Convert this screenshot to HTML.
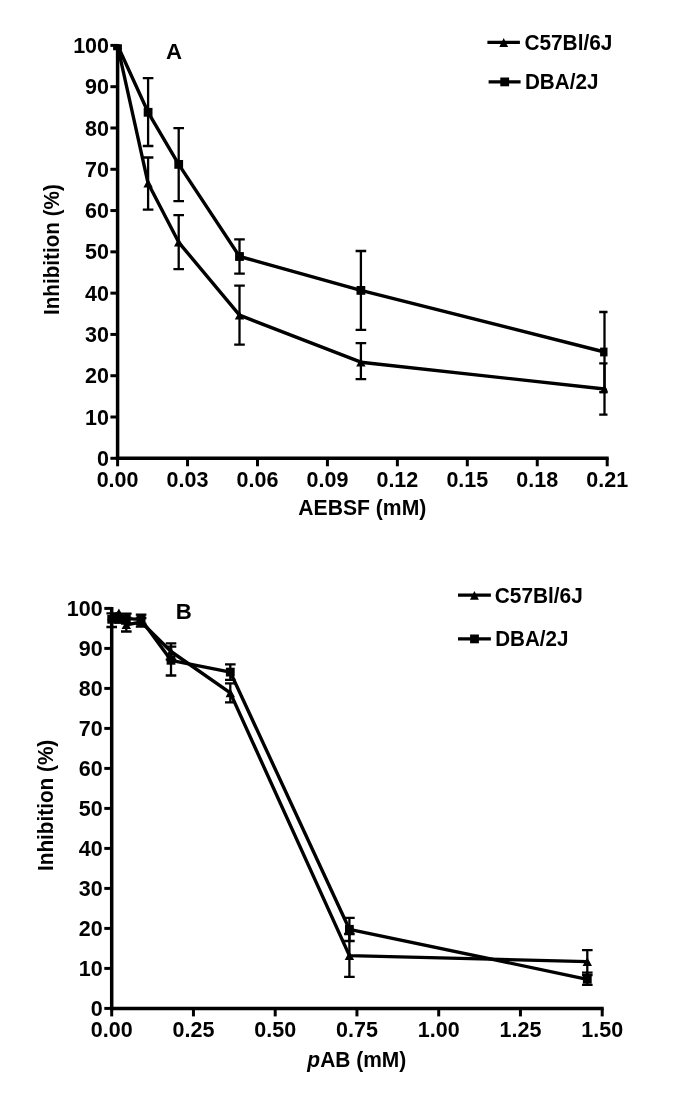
<!DOCTYPE html>
<html lang="en"><head><meta charset="utf-8"><title>Inhibition curves</title>
<style>
html,body{margin:0;padding:0;background:#fff}
svg{display:block}
text{font-family:"Liberation Sans", Arial, sans-serif;font-weight:bold;fill:#000}
</style></head>
<body>
<svg width="685" height="1111" viewBox="0 0 685 1111">
<rect width="685" height="1111" fill="#fff"/>
<path d="M117.6 43.90V460.05" stroke="#000" stroke-width="3.5" fill="none"/>
<path d="M115.85 458.3H608.70" stroke="#000" stroke-width="3.5" fill="none"/>
<path d="M110.4 458.30H117.6" stroke="#000" stroke-width="3.0"/>
<text x="109.0" y="465.85" text-anchor="end" font-size="21.5">0</text>
<path d="M110.4 417.01H117.6" stroke="#000" stroke-width="3.0"/>
<text x="109.0" y="424.56" text-anchor="end" font-size="21.5">10</text>
<path d="M110.4 375.72H117.6" stroke="#000" stroke-width="3.0"/>
<text x="109.0" y="383.27" text-anchor="end" font-size="21.5">20</text>
<path d="M110.4 334.43H117.6" stroke="#000" stroke-width="3.0"/>
<text x="109.0" y="341.98" text-anchor="end" font-size="21.5">30</text>
<path d="M110.4 293.14H117.6" stroke="#000" stroke-width="3.0"/>
<text x="109.0" y="300.69" text-anchor="end" font-size="21.5">40</text>
<path d="M110.4 251.85H117.6" stroke="#000" stroke-width="3.0"/>
<text x="109.0" y="259.4" text-anchor="end" font-size="21.5">50</text>
<path d="M110.4 210.56H117.6" stroke="#000" stroke-width="3.0"/>
<text x="109.0" y="218.11" text-anchor="end" font-size="21.5">60</text>
<path d="M110.4 169.27H117.6" stroke="#000" stroke-width="3.0"/>
<text x="109.0" y="176.82" text-anchor="end" font-size="21.5">70</text>
<path d="M110.4 127.98H117.6" stroke="#000" stroke-width="3.0"/>
<text x="109.0" y="135.53" text-anchor="end" font-size="21.5">80</text>
<path d="M110.4 86.69H117.6" stroke="#000" stroke-width="3.0"/>
<text x="109.0" y="94.24" text-anchor="end" font-size="21.5">90</text>
<path d="M110.4 45.40H117.6" stroke="#000" stroke-width="3.0"/>
<text x="109.0" y="52.95" text-anchor="end" font-size="21.5">100</text>
<path d="M117.60 458.3V466.3" stroke="#000" stroke-width="3.0"/>
<text x="117.6" y="486.7" text-anchor="middle" font-size="21.5">0.00</text>
<path d="M187.54 458.3V466.3" stroke="#000" stroke-width="3.0"/>
<text x="187.54" y="486.7" text-anchor="middle" font-size="21.5">0.03</text>
<path d="M257.49 458.3V466.3" stroke="#000" stroke-width="3.0"/>
<text x="257.49" y="486.7" text-anchor="middle" font-size="21.5">0.06</text>
<path d="M327.43 458.3V466.3" stroke="#000" stroke-width="3.0"/>
<text x="327.43" y="486.7" text-anchor="middle" font-size="21.5">0.09</text>
<path d="M397.37 458.3V466.3" stroke="#000" stroke-width="3.0"/>
<text x="397.37" y="486.7" text-anchor="middle" font-size="21.5">0.12</text>
<path d="M467.31 458.3V466.3" stroke="#000" stroke-width="3.0"/>
<text x="467.31" y="486.7" text-anchor="middle" font-size="21.5">0.15</text>
<path d="M537.26 458.3V466.3" stroke="#000" stroke-width="3.0"/>
<text x="537.26" y="486.7" text-anchor="middle" font-size="21.5">0.18</text>
<path d="M607.20 458.3V466.3" stroke="#000" stroke-width="3.0"/>
<text x="607.2" y="486.7" text-anchor="middle" font-size="21.5">0.21</text>
<text x="362.3" y="515.3" text-anchor="middle" font-size="21.5" textLength="128" lengthAdjust="spacingAndGlyphs">AEBSF (mM)</text>
<text transform="translate(59.1,249.6) rotate(-90)" text-anchor="middle" font-size="21.5" textLength="131" lengthAdjust="spacingAndGlyphs">Inhibition (%)</text>
<text x="174.1" y="59.0" text-anchor="middle" font-size="22.2">A</text>
<clipPath id="ca"><rect x="100" y="44.2" width="507.5" height="440"/></clipPath><g clip-path="url(#ca)">
<path d="M148.10 78.20V146.00M142.80 78.20h10.6M142.80 146.00h10.6" stroke="#000" stroke-width="2.3" fill="none"/>
<path d="M178.70 128.20V201.20M173.40 128.20h10.6M173.40 201.20h10.6" stroke="#000" stroke-width="2.3" fill="none"/>
<path d="M239.50 239.30V273.70M234.20 239.30h10.6M234.20 273.70h10.6" stroke="#000" stroke-width="2.3" fill="none"/>
<path d="M360.90 251.00V329.80M355.60 251.00h10.6M355.60 329.80h10.6" stroke="#000" stroke-width="2.3" fill="none"/>
<path d="M604.50 312.00V392.20M599.20 312.00h10.6M599.20 392.20h10.6" stroke="#000" stroke-width="2.3" fill="none"/>
<path d="M148.10 157.50V209.60M142.80 157.50h10.6M142.80 209.60h10.6" stroke="#000" stroke-width="2.3" fill="none"/>
<path d="M178.70 215.20V269.20M173.40 215.20h10.6M173.40 269.20h10.6" stroke="#000" stroke-width="2.3" fill="none"/>
<path d="M239.50 285.70V344.70M234.20 285.70h10.6M234.20 344.70h10.6" stroke="#000" stroke-width="2.3" fill="none"/>
<path d="M360.90 343.20V379.10M355.60 343.20h10.6M355.60 379.10h10.6" stroke="#000" stroke-width="2.3" fill="none"/>
<path d="M604.50 363.30V414.70M599.20 363.30h10.6M599.20 414.70h10.6" stroke="#000" stroke-width="2.3" fill="none"/>
<polyline points="117.50,45.20 148.10,112.30 178.70,164.40 239.50,256.50 360.90,290.40 604.50,352.00" fill="none" stroke="#000" stroke-width="3.4" stroke-linejoin="round"/>
<polyline points="117.60,46.00 148.10,183.30 178.70,242.30 239.50,315.20 360.90,362.20 604.50,389.00" fill="none" stroke="#000" stroke-width="3.4" stroke-linejoin="round"/>
<polygon points="117.60,41.70 122.30,50.30 112.90,50.30" fill="#000"/>
<polygon points="148.10,179.00 152.80,187.60 143.40,187.60" fill="#000"/>
<polygon points="178.70,238.00 183.40,246.60 174.00,246.60" fill="#000"/>
<polygon points="239.50,310.90 244.20,319.50 234.80,319.50" fill="#000"/>
<polygon points="360.90,357.90 365.60,366.50 356.20,366.50" fill="#000"/>
<polygon points="604.50,384.70 609.20,393.30 599.80,393.30" fill="#000"/>
<rect x="113.10" y="40.80" width="8.8" height="8.8" fill="#000"/>
<rect x="143.70" y="107.90" width="8.8" height="8.8" fill="#000"/>
<rect x="174.30" y="160.00" width="8.8" height="8.8" fill="#000"/>
<rect x="235.10" y="252.10" width="8.8" height="8.8" fill="#000"/>
<rect x="356.50" y="286.00" width="8.8" height="8.8" fill="#000"/>
<rect x="600.10" y="347.60" width="8.8" height="8.8" fill="#000"/>
</g>
<path d="M487.4 42.4H519.9M488.6 81.8H520.6" stroke="#000" stroke-width="3.2"/>
<polygon points="503.70,38.10 508.10,46.90 499.30,46.90" fill="#000"/>
<rect x="500.30" y="77.50" width="8.8" height="8.8" fill="#000"/>
<text x="524.4" y="49.9" text-anchor="start" font-size="21.5" textLength="88" lengthAdjust="spacingAndGlyphs">C57Bl/6J</text>
<text x="524.9" y="88.9" text-anchor="start" font-size="21.5" textLength="73.5" lengthAdjust="spacingAndGlyphs">DBA/2J</text>
<path d="M111.7 606.90V1010.15" stroke="#000" stroke-width="3.5" fill="none"/>
<path d="M109.95 1008.4H603.70" stroke="#000" stroke-width="3.5" fill="none"/>
<path d="M104.3 1008.40H111.7" stroke="#000" stroke-width="3.0"/>
<text x="102.6" y="1016.0" text-anchor="end" font-size="21.5">0</text>
<path d="M104.3 968.40H111.7" stroke="#000" stroke-width="3.0"/>
<text x="102.6" y="976.0" text-anchor="end" font-size="21.5">10</text>
<path d="M104.3 928.40H111.7" stroke="#000" stroke-width="3.0"/>
<text x="102.6" y="936.0" text-anchor="end" font-size="21.5">20</text>
<path d="M104.3 888.40H111.7" stroke="#000" stroke-width="3.0"/>
<text x="102.6" y="896.0" text-anchor="end" font-size="21.5">30</text>
<path d="M104.3 848.40H111.7" stroke="#000" stroke-width="3.0"/>
<text x="102.6" y="856.0" text-anchor="end" font-size="21.5">40</text>
<path d="M104.3 808.40H111.7" stroke="#000" stroke-width="3.0"/>
<text x="102.6" y="816.0" text-anchor="end" font-size="21.5">50</text>
<path d="M104.3 768.40H111.7" stroke="#000" stroke-width="3.0"/>
<text x="102.6" y="776.0" text-anchor="end" font-size="21.5">60</text>
<path d="M104.3 728.40H111.7" stroke="#000" stroke-width="3.0"/>
<text x="102.6" y="736.0" text-anchor="end" font-size="21.5">70</text>
<path d="M104.3 688.40H111.7" stroke="#000" stroke-width="3.0"/>
<text x="102.6" y="696.0" text-anchor="end" font-size="21.5">80</text>
<path d="M104.3 648.40H111.7" stroke="#000" stroke-width="3.0"/>
<text x="102.6" y="656.0" text-anchor="end" font-size="21.5">90</text>
<path d="M104.3 608.40H111.7" stroke="#000" stroke-width="3.0"/>
<text x="102.6" y="616.0" text-anchor="end" font-size="21.5">100</text>
<path d="M111.70 1008.4V1016.4" stroke="#000" stroke-width="3.0"/>
<text x="111.7" y="1036.8" text-anchor="middle" font-size="21.5">0.00</text>
<path d="M193.45 1008.4V1016.4" stroke="#000" stroke-width="3.0"/>
<text x="193.45" y="1036.8" text-anchor="middle" font-size="21.5">0.25</text>
<path d="M275.20 1008.4V1016.4" stroke="#000" stroke-width="3.0"/>
<text x="275.2" y="1036.8" text-anchor="middle" font-size="21.5">0.50</text>
<path d="M356.95 1008.4V1016.4" stroke="#000" stroke-width="3.0"/>
<text x="356.95" y="1036.8" text-anchor="middle" font-size="21.5">0.75</text>
<path d="M438.70 1008.4V1016.4" stroke="#000" stroke-width="3.0"/>
<text x="438.7" y="1036.8" text-anchor="middle" font-size="21.5">1.00</text>
<path d="M520.45 1008.4V1016.4" stroke="#000" stroke-width="3.0"/>
<text x="520.45" y="1036.8" text-anchor="middle" font-size="21.5">1.25</text>
<path d="M602.20 1008.4V1016.4" stroke="#000" stroke-width="3.0"/>
<text x="602.2" y="1036.8" text-anchor="middle" font-size="21.5">1.50</text>
<text x="356.8" y="1067" text-anchor="middle" font-size="21.5" textLength="98.9" lengthAdjust="spacingAndGlyphs"><tspan font-style="italic">p</tspan>AB (mM)</text>
<text transform="translate(53.2,805.4) rotate(-90)" text-anchor="middle" font-size="21.5" textLength="131.3" lengthAdjust="spacingAndGlyphs">Inhibition (%)</text>
<text x="183.7" y="618.5" text-anchor="middle" font-size="22.2">B</text>
<path d="M111.70 613.40V627.00M106.40 613.40h10.6M106.40 627.00h10.6" stroke="#000" stroke-width="2.3" fill="none"/>
<path d="M126.30 613.60V623.50M121.00 613.60h10.6M121.00 623.50h10.6" stroke="#000" stroke-width="2.3" fill="none"/>
<path d="M141.10 614.60V624.00M135.80 614.60h10.6M135.80 624.00h10.6" stroke="#000" stroke-width="2.3" fill="none"/>
<path d="M171.00 646.60V675.50M165.70 646.60h10.6M165.70 675.50h10.6" stroke="#000" stroke-width="2.3" fill="none"/>
<path d="M230.30 664.40V679.80M225.00 664.40h10.6M225.00 679.80h10.6" stroke="#000" stroke-width="2.3" fill="none"/>
<path d="M349.40 917.80V941.00M344.10 917.80h10.6M344.10 941.00h10.6" stroke="#000" stroke-width="2.3" fill="none"/>
<path d="M587.30 972.60V984.90M582.00 972.60h10.6M582.00 984.90h10.6" stroke="#000" stroke-width="2.3" fill="none"/>
<path d="M126.30 618.00V631.50M121.00 618.00h10.6M121.00 631.50h10.6" stroke="#000" stroke-width="2.3" fill="none"/>
<path d="M141.10 618.00V626.60M135.80 618.00h10.6M135.80 626.60h10.6" stroke="#000" stroke-width="2.3" fill="none"/>
<path d="M171.00 643.40V659.60M165.70 643.40h10.6M165.70 659.60h10.6" stroke="#000" stroke-width="2.3" fill="none"/>
<path d="M230.30 683.40V702.40M225.00 683.40h10.6M225.00 702.40h10.6" stroke="#000" stroke-width="2.3" fill="none"/>
<path d="M349.40 934.00V976.80M344.10 934.00h10.6M344.10 976.80h10.6" stroke="#000" stroke-width="2.3" fill="none"/>
<path d="M587.30 950.10V975.10M582.00 950.10h10.6M582.00 975.10h10.6" stroke="#000" stroke-width="2.3" fill="none"/>
<polyline points="111.70,619.30 118.90,619.50 126.30,618.60 141.10,619.40 171.00,660.30 230.30,672.10 349.40,929.30 587.30,979.30" fill="none" stroke="#000" stroke-width="3.4" stroke-linejoin="round"/>
<polyline points="111.70,616.00 118.90,612.90 126.30,624.80 141.10,622.00 171.00,651.50 230.30,692.90 349.40,955.60 587.30,961.60" fill="none" stroke="#000" stroke-width="3.4" stroke-linejoin="round"/>
<polygon points="111.70,611.70 116.40,620.30 107.00,620.30" fill="#000"/>
<polygon points="118.90,608.60 123.60,617.20 114.20,617.20" fill="#000"/>
<polygon points="126.30,620.50 131.00,629.10 121.60,629.10" fill="#000"/>
<polygon points="141.10,617.70 145.80,626.30 136.40,626.30" fill="#000"/>
<polygon points="171.00,647.20 175.70,655.80 166.30,655.80" fill="#000"/>
<polygon points="230.30,688.60 235.00,697.20 225.60,697.20" fill="#000"/>
<polygon points="349.40,951.30 354.10,959.90 344.70,959.90" fill="#000"/>
<polygon points="587.30,957.30 592.00,965.90 582.60,965.90" fill="#000"/>
<rect x="107.30" y="614.90" width="8.8" height="8.8" fill="#000"/>
<rect x="114.50" y="615.10" width="8.8" height="8.8" fill="#000"/>
<rect x="121.90" y="614.20" width="8.8" height="8.8" fill="#000"/>
<rect x="136.70" y="615.00" width="8.8" height="8.8" fill="#000"/>
<rect x="166.60" y="655.90" width="8.8" height="8.8" fill="#000"/>
<rect x="225.90" y="667.70" width="8.8" height="8.8" fill="#000"/>
<rect x="345.00" y="924.90" width="8.8" height="8.8" fill="#000"/>
<rect x="582.90" y="974.90" width="8.8" height="8.8" fill="#000"/>
<path d="M458 595.1H490.9M458 638.8H490.9" stroke="#000" stroke-width="3.3"/>
<polygon points="474.40,591.10 478.90,599.70 469.90,599.70" fill="#000"/>
<rect x="470.10" y="634.50" width="8.8" height="8.8" fill="#000"/>
<text x="494.8" y="602.5" text-anchor="start" font-size="21.5" textLength="88" lengthAdjust="spacingAndGlyphs">C57Bl/6J</text>
<text x="495.2" y="646.1" text-anchor="start" font-size="21.5" textLength="73.3" lengthAdjust="spacingAndGlyphs">DBA/2J</text>
</svg>
</body></html>
